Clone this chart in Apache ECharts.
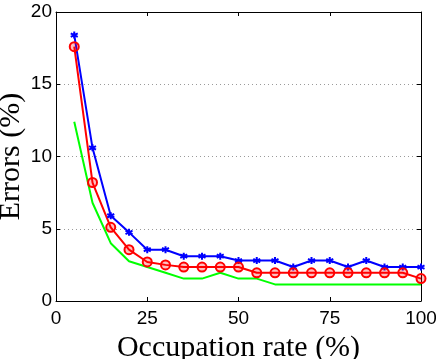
<!DOCTYPE html>
<html>
<head>
<meta charset="utf-8">
<script src="https://cdn.jsdelivr.net/npm/echarts@6/dist/echarts.min.js"></script>
<style>
    * { margin: 0; padding: 0; }
    body { background: #ffffff; }
    #main { width: 436px; height: 359px; }
</style>
</head>
<body>
<div id="main"></div>
<script>
    // occupation rate (%)
    var rates = [5, 10, 15, 20, 25, 30, 35, 40, 45, 50, 55, 60, 65, 70, 75, 80, 85, 90, 95, 100];
    // errors (%)
    var blueErr = [18.4, 10.6, 5.9, 4.75, 3.55, 3.55, 3.1, 3.1, 3.1, 2.8, 2.8, 2.8, 2.35, 2.8, 2.8, 2.35, 2.8, 2.35, 2.35, 2.35];
    var redErr = [17.6, 8.2, 5.1, 3.55, 2.7, 2.5, 2.35, 2.35, 2.35, 2.35, 1.95, 1.95, 1.95, 1.95, 1.95, 1.95, 1.95, 1.95, 1.95, 1.55];
    var greenErr = [12.4, 6.8, 4.0, 2.75, 2.35, 1.95, 1.55, 1.55, 1.95, 1.55, 1.55, 1.15, 1.15, 1.15, 1.15, 1.15, 1.15, 1.15, 1.15, 1.15];
    var xTicks = [0, 25, 50, 75, 100];
    var yTicks = [0, 5, 10, 15, 20];

    function pairs(ys) {
        return rates.map(function (x, i) { return [x, ys[i]]; });
    }

    var myChart = echarts.init(document.getElementById('main'));

    var tickFont = { fontFamily: 'Liberation Sans', fontSize: 19, color: '#000' };
    var nameFont = { fontFamily: 'Liberation Serif', fontSize: 30, color: '#000' };
    var asterisk = 'path://M0,-10L0,10M-8.7,-5L8.7,5M-8.7,5L8.7,-5';

    var option = {
        animation: false,
        backgroundColor: '#ffffff',
        grid: {
            left: 56, right: 15, top: 12, bottom: 58,
            outerBoundsMode: 'none'
        },
        xAxis: [{
            type: 'value',
            min: xTicks[0],
            max: xTicks[xTicks.length - 1],
            interval: 25,
            name: 'Occupation rate (%)',
            nameLocation: 'middle',
            nameGap: 32,
            nameMoveOverlap: false,
            nameTextStyle: nameFont,
            axisLine: { onZero: false, lineStyle: { color: '#000', width: 1 } },
            axisTick: { inside: true, length: 4, lineStyle: { color: '#000' } },
            axisLabel: Object.assign({ margin: 8 }, tickFont),
            splitLine: { show: false }
        }, {
            type: 'value',
            position: 'top',
            min: xTicks[0],
            max: xTicks[xTicks.length - 1],
            interval: 25,
            axisLine: { onZero: false, lineStyle: { color: '#000', width: 1 } },
            axisTick: { inside: true, length: 4, lineStyle: { color: '#000' } },
            axisLabel: { show: false },
            splitLine: { show: false }
        }],
        yAxis: [{
            type: 'value',
            min: yTicks[0],
            max: yTicks[yTicks.length - 1],
            interval: 5,
            name: 'Errors (%)',
            nameLocation: 'middle',
            nameGap: 30,
            nameMoveOverlap: false,
            nameTextStyle: nameFont,
            axisLine: { show: true, onZero: false, lineStyle: { color: '#000', width: 1 } },
            axisTick: { show: true, inside: true, length: 4, lineStyle: { color: '#000' } },
            axisLabel: Object.assign({ margin: 4 }, tickFont),
            splitLine: { show: true, lineStyle: { type: [1, 3], color: '#9a9a9a', width: 1 } }
        }, {
            type: 'value',
            position: 'right',
            min: yTicks[0],
            max: yTicks[yTicks.length - 1],
            interval: 5,
            axisLine: { show: true, onZero: false, lineStyle: { color: '#000', width: 1 } },
            axisTick: { show: true, inside: true, length: 4, lineStyle: { color: '#000' } },
            axisLabel: { show: false },
            splitLine: { show: false }
        }],
        series: [{
            type: 'line',
            data: pairs(blueErr),
            symbol: asterisk,
            symbolSize: 7,
            lineStyle: { color: '#0000ff', width: 2 },
            itemStyle: { color: 'rgba(0,0,0,0)', borderColor: '#0000ff', borderWidth: 2 }
        }, {
            type: 'line',
            data: pairs(redErr),
            symbol: 'circle',
            symbolSize: 9,
            lineStyle: { color: '#ff0000', width: 2 },
            itemStyle: { color: 'rgba(255,0,0,0.25)', borderColor: '#ff0000', borderWidth: 2 }
        }, {
            type: 'line',
            data: pairs(greenErr),
            symbol: 'none',
            lineStyle: { color: '#00ff00', width: 2 }
        }]
    };

    myChart.setOption(option);
</script>
</body>
</html>
